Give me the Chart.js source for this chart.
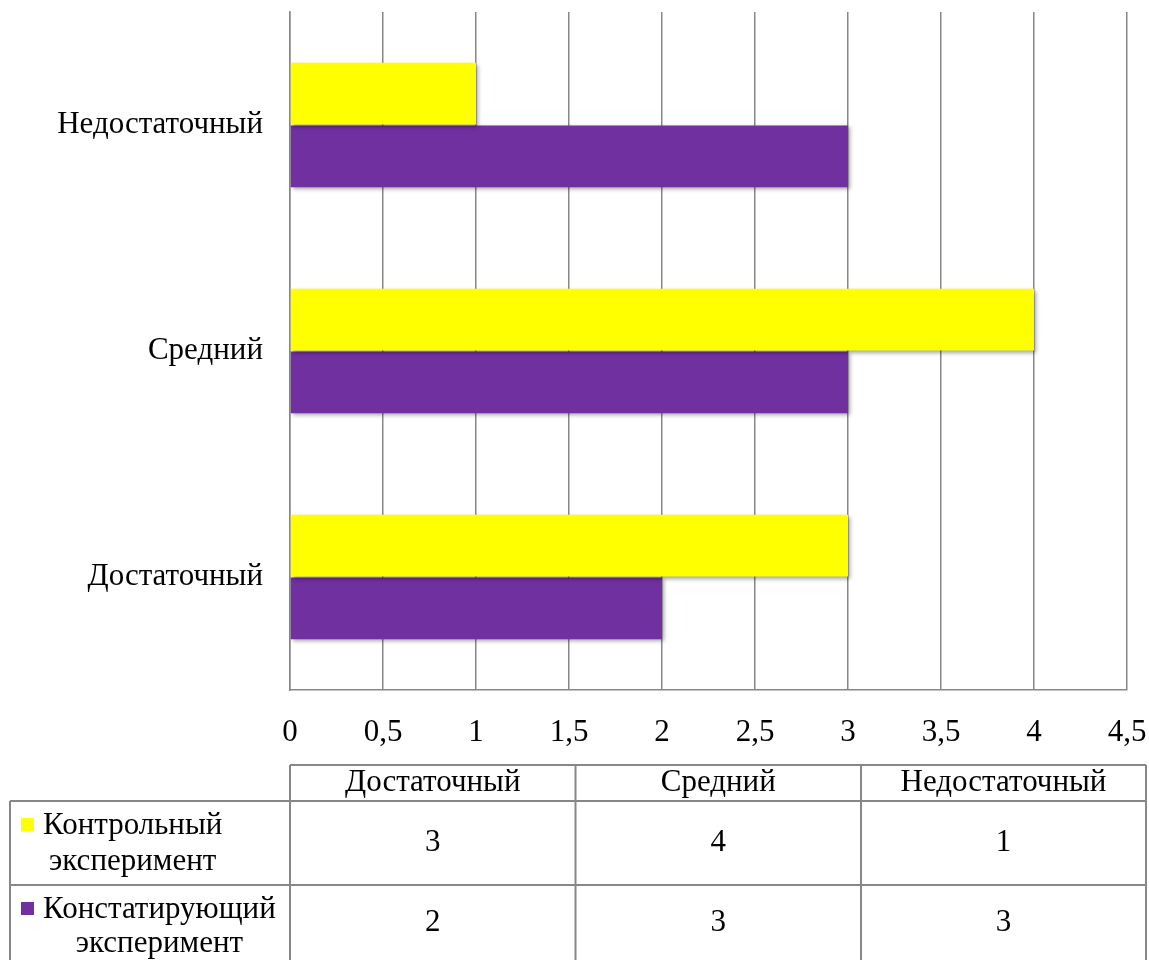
<!DOCTYPE html>
<html lang="ru">
    <head>
        <meta charset="utf-8">
        <script src="https://cdn.jsdelivr.net/npm/chart.js@4.4.1/dist/chart.umd.min.js"></script>
        <title>Уровни</title>
        <style>
            body { margin: 0; background: #fff; }
            .container { width: 1149px; height: 960px; }
        </style>
    </head>
    <body>
        <div class="container">
            <canvas id="myChart"></canvas>
        </div>

        <script>
            // data
            const categories = ['Достаточный', 'Средний', 'Недостаточный'];
            const seriesNames = [['Контрольный', 'эксперимент'], ['Констатирующий', 'эксперимент']];
            const controlValues = [3, 4, 1];
            const baselineValues = [2, 3, 3];
            const xTicks = [0, 0.5, 1, 1.5, 2, 2.5, 3, 3.5, 4, 4.5];

            const serif = "'Liberation Serif', 'Times New Roman', serif";
            const gridColor = '#878787';
            const colors = ['#ffff00', '#7030a0'];

            // soft shadow under the bars
            const barShadow = {
                id: 'barShadow',
                beforeDatasetsDraw(chart) {
                    const ctx = chart.ctx;
                    ctx.save();
                    ctx.shadowColor = 'rgba(0,0,0,0.35)';
                    ctx.shadowBlur = 4;
                    ctx.shadowOffsetX = 2;
                    ctx.shadowOffsetY = 2;
                },
                afterDatasetsDraw(chart) {
                    chart.ctx.restore();
                }
            };

            // data table under the axis
            const dataTable = {
                id: 'dataTable',
                afterDraw(chart) {
                    const ctx = chart.ctx;
                    const cols = [290, 575.5, 861, 1146];
                    const rows = [765, 801, 885, 960];
                    const rows2 = [[controlValues, 826, 862], [baselineValues, 910, 944]];
                    ctx.save();
                    ctx.strokeStyle = gridColor;
                    ctx.lineWidth = 2;
                    ctx.beginPath();
                    // header row
                    ctx.moveTo(cols[0], rows[0]); ctx.lineTo(cols[3], rows[0]);
                    ctx.moveTo(10, rows[1]); ctx.lineTo(cols[3], rows[1]);
                    ctx.moveTo(10, rows[2]); ctx.lineTo(cols[3], rows[2]);
                    cols.forEach(x => { ctx.moveTo(x, rows[0]); ctx.lineTo(x, rows[3]); });
                    ctx.moveTo(10, rows[1]); ctx.lineTo(10, rows[3]);
                    ctx.stroke();

                    ctx.fillStyle = '#000';
                    ctx.font = '31px ' + serif;
                    ctx.textAlign = 'center';
                    ctx.textBaseline = 'middle';
                    categories.forEach((c, i) => {
                        ctx.fillText(c, (cols[i] + cols[i + 1]) / 2, 783);
                    });
                    rows2.forEach((r, k) => {
                        const yMid = (rows[k + 1] + rows[k + 2]) / 2;
                        r[0].forEach((v, i) => {
                            ctx.fillText(String(v), (cols[i] + cols[i + 1]) / 2, yMid);
                        });
                        // legend key + series name
                        ctx.fillStyle = colors[k];
                        ctx.fillRect(21, r[1] - 8, 13, 13);
                        ctx.fillStyle = '#000';
                        const lines = seriesNames[k];
                        const w = Math.max(...lines.map(l => ctx.measureText(l).width));
                        ctx.fillText(lines[0], 43 + w / 2, r[1]);
                        ctx.fillText(lines[1], 43 + w / 2, r[2]);
                    });
                    ctx.restore();
                }
            };

            let myChart = document.getElementById('myChart').getContext('2d');
            let barChart = new Chart(myChart, {
                type: 'bar',
                plugins: [barShadow, dataTable],
                data: {
                    labels: categories,
                    datasets: [{
                        label: seriesNames[0].join(' '),
                        data: controlValues,
                        backgroundColor: colors[0],
                        borderWidth: 0,
                        categoryPercentage: 0.555,
                        barPercentage: 0.985
                    }, {
                        label: seriesNames[1].join(' '),
                        data: baselineValues,
                        backgroundColor: colors[1],
                        borderWidth: 0,
                        categoryPercentage: 0.555,
                        barPercentage: 0.985
                    }]
                },
                options: {
                    indexAxis: 'y',
                    responsive: true,
                    maintainAspectRatio: false,
                    animation: false,
                    layout: {
                        padding: { top: 12, right: 22, bottom: 0, left: 0 }
                    },
                    plugins: {
                        legend: { display: false },
                        tooltip: { enabled: false }
                    },
                    scales: {
                        x: {
                            min: 0,
                            max: 4.5,
                            afterFit: scale => {
                                scale.height = 270;
                                scale.paddingLeft = 0;
                                scale.paddingRight = 0;
                            },
                            afterBuildTicks: scale => { scale.ticks = xTicks.map(v => ({ value: v })); },
                            grid: { color: gridColor, lineWidth: 1.5, drawTicks: false },
                            border: { display: true, color: gridColor, width: 1.5 },
                            ticks: {
                                color: '#000',
                                padding: 24,
                                font: { family: serif, size: 31 },
                                callback: v => String(v).replace('.', ',')
                            }
                        },
                        y: {
                            reverse: true,
                            afterFit: scale => {
                                scale.width = 290;
                                scale.paddingTop = 0;
                                scale.paddingBottom = 0;
                            },
                            grid: { display: false },
                            border: { display: true, color: gridColor, width: 1.5 },
                            ticks: {
                                color: '#000',
                                padding: 19,
                                font: { family: serif, size: 31 }
                            }
                        }
                    }
                }
            });
        </script>
    </body>
</html>
